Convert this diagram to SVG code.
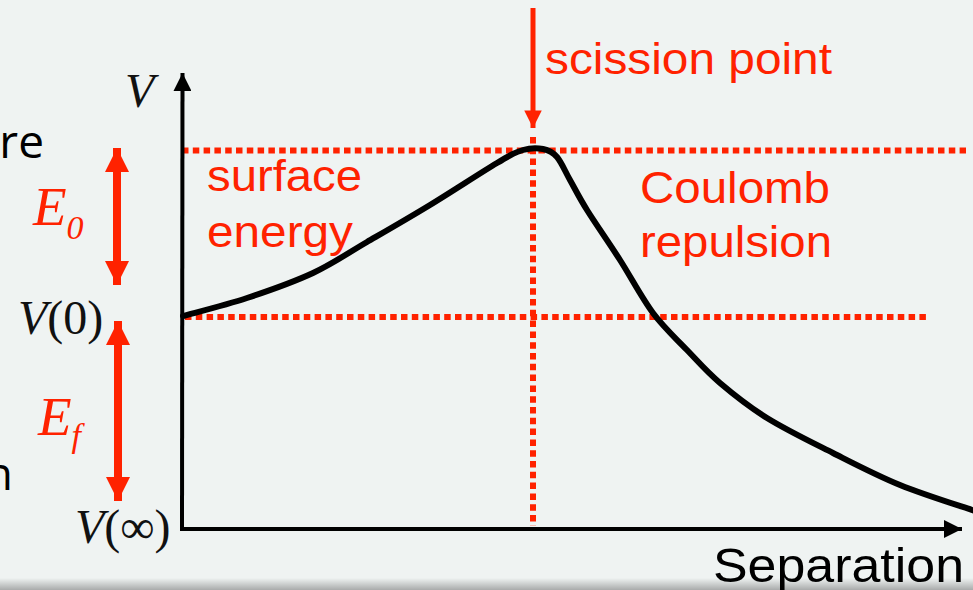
<svg xmlns="http://www.w3.org/2000/svg" width="973" height="590" viewBox="0 0 973 590">
  <defs>
    <linearGradient id="band" x1="0" y1="0" x2="0" y2="1">
      <stop offset="0" stop-color="#eff3f2"/>
      <stop offset="1" stop-color="#a9abab"/>
    </linearGradient>
    <marker id="redHead" viewBox="0 0 10 10" refX="10" refY="5" markerWidth="3" markerHeight="3" orient="auto-start-reverse" markerUnits="strokeWidth">
      <path d="M0,0 L10,5 L0,10 Z" fill="#ff2200"/>
    </marker>
    <marker id="blackHead" viewBox="0 0 10 10" refX="10" refY="5" markerWidth="4.5" markerHeight="4.5" orient="auto" markerUnits="strokeWidth">
      <path d="M0,0 L10,5 L0,10 Z" fill="#000"/>
    </marker>
    <marker id="scHead" viewBox="0 0 10 10" refX="10" refY="5" markerWidth="4" markerHeight="3.5" orient="auto" markerUnits="strokeWidth">
      <path d="M0,0 L10,5 L0,10 Z" fill="#ff2200"/>
    </marker>
  </defs>
  <style>
    .bg { fill: #eff3f2; }
    .dot { stroke: #ff2200; stroke-width: 6; stroke-dasharray: 6.5 4.3; fill: none; }
    .axis { stroke: #000; stroke-width: 4; fill: none; }
    .curve { stroke: #000; stroke-width: 6; fill: none; stroke-linejoin: round; stroke-linecap: round; }
    .redarrow { stroke: #ff2200; stroke-width: 8; fill: none; }
    .lbl { font-family: "Liberation Sans", Arial, sans-serif; fill: #ff2200; font-size: 44px; }
    .blk { font-family: "Liberation Sans", Arial, sans-serif; fill: #000; font-size: 48px; }
    .math { font-family: "Liberation Serif", "Times New Roman", serif; fill: #111; font-size: 48px; }
    .mathred { font-family: "Liberation Serif", "Times New Roman", serif; fill: #ff2200; font-size: 55px; font-style: italic; }
    .side { font-family: "Open Sans", sans-serif; fill: #000; font-size: 46px; }
  </style>
  <rect class="bg" x="0" y="0" width="973" height="590"/>
  <rect x="0" y="578" width="973" height="12" fill="url(#band)"/>

  <g id="guides">
    <line class="dot" x1="182" y1="150.5" x2="966" y2="150.5"/>
    <line class="dot" x1="185" y1="317" x2="928" y2="317"/>
    <line class="dot" x1="533" y1="137" x2="533" y2="526"/>
  </g>

  <g id="connectors">
    <line class="axis" x1="182" y1="527" x2="182.5" y2="73" marker-end="url(#blackHead)"/>
    <line class="axis" x1="180" y1="529" x2="962" y2="529" marker-end="url(#blackHead)"/>
    <line stroke="#ff2200" stroke-width="5" x1="533" y1="8" x2="533" y2="128" marker-end="url(#scHead)"/>
    <line class="redarrow" x1="117" y1="148" x2="117" y2="285" marker-start="url(#redHead)" marker-end="url(#redHead)"/>
    <line class="redarrow" x1="118" y1="321" x2="118" y2="501" marker-start="url(#redHead)" marker-end="url(#redHead)"/>
  </g>

  <g id="curve">
    <path class="curve" d="M183,316 C193.7,313 225.3,305.2 247,298 C268.7,290.8 293,282.3 313,273 C333,263.7 347.5,253.3 367,242 C386.5,230.7 408.3,218.2 430,205 C451.7,191.8 481.5,172.2 497,163 C512.5,153.8 515.3,152.3 523,150 C530.7,147.7 537.3,147.8 543,149 C548.7,150.2 552.5,151.8 557,157 C561.5,162.2 565,171.2 570,180 C575,188.8 578.7,196.7 587,210 C595.3,223.3 609,242.8 620,260 C631,277.2 641.8,298 653,313 C664.2,328 675.8,338.3 687,350 C698.2,361.7 706.7,371.7 720,383 C733.3,394.3 748.2,406.3 767,418 C785.8,429.7 810.8,441.8 833,453 C855.2,464.2 876.3,475.3 900,485 C923.7,494.7 962.5,506.7 975,511"/>
  </g>

  <g id="labels">
    <text class="lbl" x="545" y="74" textLength="287" lengthAdjust="spacingAndGlyphs">scission point</text>
    <text class="lbl" x="207" y="191" textLength="155" lengthAdjust="spacingAndGlyphs">surface</text>
    <text class="lbl" x="207" y="247" textLength="146" lengthAdjust="spacingAndGlyphs">energy</text>
    <text class="lbl" x="640" y="203" textLength="190" lengthAdjust="spacingAndGlyphs">Coulomb</text>
    <text class="lbl" x="640" y="257" textLength="192" lengthAdjust="spacingAndGlyphs">repulsion</text>
    <text class="blk" x="713" y="582" textLength="251" lengthAdjust="spacingAndGlyphs">Separation</text>
    <text class="side" x="44" y="158" text-anchor="end">re</text>
    <text class="side" x="13" y="490" text-anchor="end">n</text>
    <text class="math" x="125" y="107" font-style="italic">V</text>
    <text class="math" x="18" y="334"><tspan font-style="italic">V</tspan>(0)</text>
    <text class="math" x="75" y="543"><tspan font-style="italic">V</tspan>(∞)</text>
    <text class="mathred" x="33" y="225">E<tspan font-size="34" dy="14">0</tspan></text>
    <text class="mathred" x="38" y="435">E<tspan font-size="34" dy="12">f</tspan></text>
  </g>
</svg>
